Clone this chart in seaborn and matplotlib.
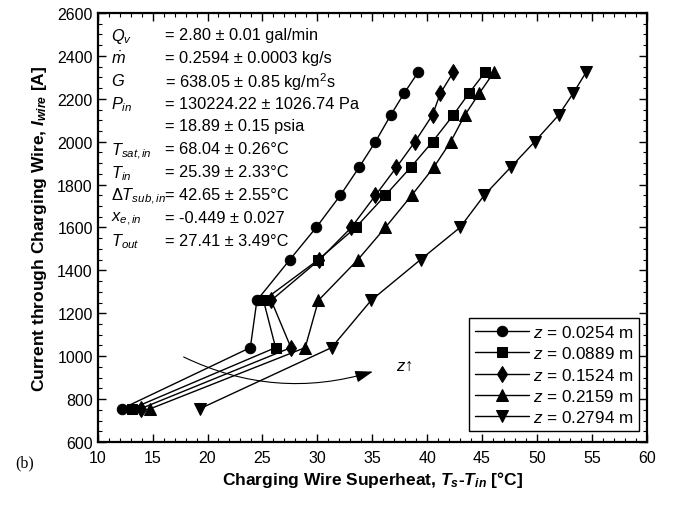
import numpy as np
import pandas as pd
import seaborn as sns
import matplotlib.pyplot as plt
from matplotlib.ticker import MultipleLocator

# wire current levels [A]
current = [755, 1040, 1260, 1450, 1600, 1750, 1880, 2000, 2125, 2225, 2325]

# superheat Ts - Tin [degC] at each axial location
sh_0254 = [12.2, 23.9, 24.5, 27.5, 29.9, 32.1, 33.8, 35.3, 36.7, 37.9, 39.2]
sh_0889 = [13.1, 26.2, 25.1, 30.1, 33.5, 36.2, 38.5, 40.5, 42.4, 43.8, 45.3]
sh_1524 = [13.9, 27.6, 25.8, 30.2, 33.1, 35.3, 37.2, 38.9, 40.5, 41.2, 42.4]
sh_2159 = [14.8, 28.9, 30.1, 33.7, 36.2, 38.6, 40.6, 42.15, 43.45, 44.75, 46.1]
sh_2794 = [19.3, 31.3, 34.9, 39.4, 43.0, 45.2, 47.6, 49.8, 52.0, 53.3, 54.5]

locations = ["0.0254", "0.0889", "0.1524", "0.2159", "0.2794"]
markers = ["o", "s", "d", "^", "v"]
msizes = [7.5, 7, 8.5, 8, 8]

info_labels = [r"$Q_v$", r"$\dot{m}$", r"$G$", r"$P_{in}$", "",
               r"$T_{sat,in}$", r"$T_{in}$", r"$\Delta T_{sub,in}$",
               r"$x_{e,in}$", r"$T_{out}$"]
info_values = ["= 2.80 ± 0.01 gal/min", "= 0.2594 ± 0.0003 kg/s",
               "= 638.05 ± 0.85 kg/m$^2$s", "= 130224.22 ± 1026.74 Pa",
               "= 18.89 ± 0.15 psia", "= 68.04 ± 0.26°C", "= 25.39 ± 2.33°C",
               "= 42.65 ± 2.55°C", "= -0.449 ± 0.027", "= 27.41 ± 3.49°C"]

sns.set_theme(style="ticks")
plt.rcParams["font.family"] = ["Liberation Sans", "DejaVu Sans"]
plt.rcParams["mathtext.fontset"] = "custom"
plt.rcParams["mathtext.rm"] = "Liberation Sans"
plt.rcParams["mathtext.it"] = "Liberation Sans:italic"
plt.rcParams["mathtext.bf"] = "Liberation Sans:bold"
plt.rcParams["mathtext.bfit"] = "Liberation Sans:italic:bold"
plt.rcParams["text.color"] = "black"
plt.rcParams["axes.labelcolor"] = "black"
plt.rcParams["xtick.color"] = "black"
plt.rcParams["ytick.color"] = "black"

fig = plt.figure(figsize=(6.79, 5.10), dpi=100)
ax = fig.add_axes([0.1439, 0.1314, 0.8085, 0.8412])

series = [sh_0254, sh_0889, sh_1524, sh_2159, sh_2794]
for sh, loc, mk, ms in zip(series, locations, markers, msizes):
    sns.lineplot(x=sh, y=current, sort=False, estimator=None, color="black",
                 marker=mk, markersize=ms, markeredgecolor="black",
                 linewidth=1.0, label=f"$z$ = {loc} m", ax=ax)

ax.set_xlim(10, 60)
ax.set_ylim(600, 2600)
ax.xaxis.set_major_locator(MultipleLocator(5))
ax.xaxis.set_minor_locator(MultipleLocator(1))
ax.yaxis.set_major_locator(MultipleLocator(200))
ax.yaxis.set_minor_locator(MultipleLocator(50))
ax.tick_params(which="both", direction="in", top=True, right=True,
               colors="black", labelsize=11.5)
ax.tick_params(which="major", length=6, width=1)
ax.tick_params(which="minor", length=3, width=0.8)
ax.tick_params(axis="x", pad=6)
for s in ax.spines.values():
    s.set_linewidth(1.6)
    s.set_color("black")

ax.set_xlabel(r"Charging Wire Superheat, $\mathbfit{T}_{\mathbfit{s}}$-$\mathbfit{T}_{\mathbfit{in}}$ [°C]",
              fontsize=12.5, fontweight="bold", labelpad=3)
ax.set_ylabel(r"Current through Charging Wire, $\mathbfit{I}_{\mathbfit{wire}}$ [A]",
              fontsize=12.5, fontweight="bold", labelpad=6)

# operating conditions
for i, (lab, val) in enumerate(zip(info_labels, info_values)):
    yy = 0.953 - i * 0.0532
    ax.text(0.024, yy, lab, transform=ax.transAxes, fontsize=11.8,
            va="center_baseline", ha="left")
    ax.text(0.122, yy, val, transform=ax.transAxes, fontsize=11.8,
            va="center_baseline", ha="left")

# direction of increasing z
ax.annotate("", xy=(35.3, 932), xytext=(17.6, 1002),
            arrowprops=dict(arrowstyle="-|>,head_length=0.9,head_width=0.3",
                            color="black", lw=0.8,
                            connectionstyle="arc3,rad=0.2"))
ax.text(37.2, 955, "$z$↑", fontsize=12, va="center", ha="left")

leg = ax.legend(loc="lower right", bbox_to_anchor=(0.9865, 0.026),
                borderaxespad=0, fancybox=False, framealpha=1,
                edgecolor="black", fontsize=12.3, handlelength=3.2,
                handletextpad=0.2, labelspacing=0.3, borderpad=0.35)
leg.get_frame().set_linewidth(1.0)

fig.text(0.022, 0.084, "(b)", fontsize=11.5, family="Liberation Serif")

fig.savefig("out.png", dpi=100)
